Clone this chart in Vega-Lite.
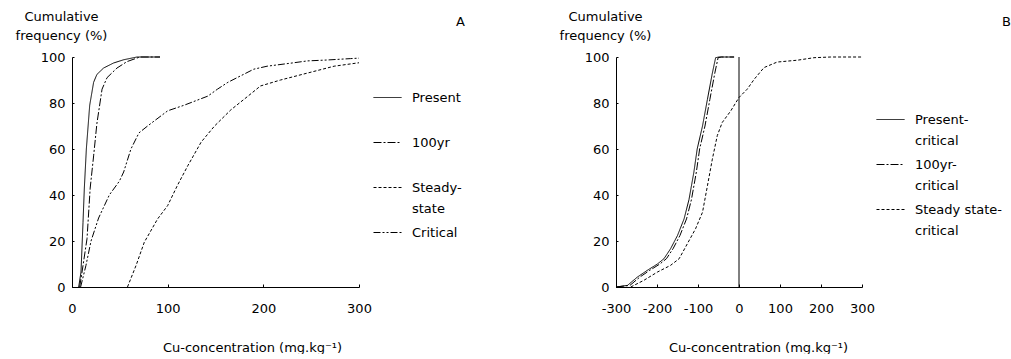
{
  "$schema": "https://vega.github.io/schema/vega-lite/v6.json",
  "padding": {"left": 15, "top": 10, "right": 0, "bottom": 0},
  "background": "white",
  "config": {
    "font": "DejaVu Sans",
    "view": {"stroke": null},
    "axis": {"grid": false, "domainColor": "black", "tickColor": "black", "labelColor": "black", "titleColor": "black", "labelFont": "DejaVu Sans", "titleFont": "DejaVu Sans", "labelFontSize": 13, "titleFontSize": 13, "titleFontWeight": "normal", "domainWidth": 1, "tickWidth": 1, "labelOverlap": false, "labelFlush": false},
    "legend": {"labelFont": "DejaVu Sans", "labelFontSize": 13, "labelColor": "black"},
    "title": {"font": "DejaVu Sans", "fontSize": 13, "fontWeight": "normal", "color": "black"}
  },
  "datasets": {
    "A": [
      {"s": "Present", "x": 7, "y": 0}, {"s": "Present", "x": 9.4, "y": 6.5}, {"s": "Present", "x": 11.5, "y": 28}, {"s": "Present", "x": 12.9, "y": 43}, {"s": "Present", "x": 15, "y": 60}, {"s": "Present", "x": 18.5, "y": 79}, {"s": "Present", "x": 22.6, "y": 89}, {"s": "Present", "x": 26, "y": 92.4}, {"s": "Present", "x": 33, "y": 95.2}, {"s": "Present", "x": 43.5, "y": 97.4}, {"s": "Present", "x": 54, "y": 98.8}, {"s": "Present", "x": 68, "y": 100}, {"s": "Present", "x": 92, "y": 100},
      {"s": "100yr", "x": 8, "y": 0}, {"s": "100yr", "x": 10.5, "y": 6.5}, {"s": "100yr", "x": 15.7, "y": 21}, {"s": "100yr", "x": 19, "y": 43}, {"s": "100yr", "x": 22.6, "y": 57}, {"s": "100yr", "x": 26, "y": 71}, {"s": "100yr", "x": 31.4, "y": 86}, {"s": "100yr", "x": 36.6, "y": 91}, {"s": "100yr", "x": 47, "y": 95.2}, {"s": "100yr", "x": 57.5, "y": 98}, {"s": "100yr", "x": 71, "y": 100}, {"s": "100yr", "x": 92, "y": 100},
      {"s": "Steady-state", "x": 58, "y": 0}, {"s": "Steady-state", "x": 67, "y": 9.4}, {"s": "Steady-state", "x": 75.6, "y": 19.5}, {"s": "Steady-state", "x": 89.5, "y": 29.6}, {"s": "Steady-state", "x": 100, "y": 35.4}, {"s": "Steady-state", "x": 110, "y": 44}, {"s": "Steady-state", "x": 121, "y": 52.7}, {"s": "Steady-state", "x": 135, "y": 63}, {"s": "Steady-state", "x": 149, "y": 70}, {"s": "Steady-state", "x": 166, "y": 77}, {"s": "Steady-state", "x": 184, "y": 83}, {"s": "Steady-state", "x": 197, "y": 87.4}, {"s": "Steady-state", "x": 218, "y": 90}, {"s": "Steady-state", "x": 246, "y": 93}, {"s": "Steady-state", "x": 274, "y": 96}, {"s": "Steady-state", "x": 300, "y": 97.5},
      {"s": "Critical", "x": 9, "y": 0}, {"s": "Critical", "x": 14.6, "y": 9.4}, {"s": "Critical", "x": 19.9, "y": 20}, {"s": "Critical", "x": 27.8, "y": 30}, {"s": "Critical", "x": 39, "y": 40}, {"s": "Critical", "x": 49.5, "y": 46}, {"s": "Critical", "x": 54, "y": 50}, {"s": "Critical", "x": 61.6, "y": 60}, {"s": "Critical", "x": 70, "y": 67}, {"s": "Critical", "x": 79, "y": 70}, {"s": "Critical", "x": 93, "y": 74.4}, {"s": "Critical", "x": 100, "y": 76.6}, {"s": "Critical", "x": 117, "y": 79}, {"s": "Critical", "x": 142, "y": 83}, {"s": "Critical", "x": 152, "y": 86}, {"s": "Critical", "x": 163, "y": 89}, {"s": "Critical", "x": 190, "y": 94.7}, {"s": "Critical", "x": 204, "y": 96}, {"s": "Critical", "x": 232, "y": 97.5}, {"s": "Critical", "x": 246, "y": 98.3}, {"s": "Critical", "x": 267, "y": 98.7}, {"s": "Critical", "x": 291, "y": 99.3}, {"s": "Critical", "x": 300, "y": 99.5}
    ],
    "B": [
      {"t": "Present-critical", "x": -300, "y": 0}, {"t": "Present-critical", "x": -272, "y": 0.7}, {"t": "Present-critical", "x": -248, "y": 4.3}, {"t": "Present-critical", "x": -224, "y": 7.2}, {"t": "Present-critical", "x": -199, "y": 10}, {"t": "Present-critical", "x": -183, "y": 12.3}, {"t": "Present-critical", "x": -167, "y": 16.6}, {"t": "Present-critical", "x": -150, "y": 22.4}, {"t": "Present-critical", "x": -134, "y": 29.6}, {"t": "Present-critical", "x": -122, "y": 38}, {"t": "Present-critical", "x": -110, "y": 50}, {"t": "Present-critical", "x": -102, "y": 60}, {"t": "Present-critical", "x": -89, "y": 70}, {"t": "Present-critical", "x": -77, "y": 81.6}, {"t": "Present-critical", "x": -65, "y": 93}, {"t": "Present-critical", "x": -57, "y": 99.7}, {"t": "Present-critical", "x": -49, "y": 100}, {"t": "Present-critical", "x": -12, "y": 100},
      {"t": "100yr-critical", "x": -300, "y": 0}, {"t": "100yr-critical", "x": -266, "y": 0.7}, {"t": "100yr-critical", "x": -242, "y": 4.3}, {"t": "100yr-critical", "x": -218, "y": 7.2}, {"t": "100yr-critical", "x": -193, "y": 10}, {"t": "100yr-critical", "x": -177, "y": 12.3}, {"t": "100yr-critical", "x": -161, "y": 16.6}, {"t": "100yr-critical", "x": -144, "y": 22.4}, {"t": "100yr-critical", "x": -128, "y": 29.6}, {"t": "100yr-critical", "x": -116, "y": 38}, {"t": "100yr-critical", "x": -104, "y": 50}, {"t": "100yr-critical", "x": -96, "y": 60}, {"t": "100yr-critical", "x": -83, "y": 70}, {"t": "100yr-critical", "x": -71, "y": 81.6}, {"t": "100yr-critical", "x": -59, "y": 93}, {"t": "100yr-critical", "x": -51, "y": 99.7}, {"t": "100yr-critical", "x": -43, "y": 100}, {"t": "100yr-critical", "x": -12, "y": 100},
      {"t": "Steady state-critical", "x": -264, "y": 0}, {"t": "Steady state-critical", "x": -232, "y": 2.9}, {"t": "Steady state-critical", "x": -199, "y": 6.5}, {"t": "Steady state-critical", "x": -167, "y": 9.4}, {"t": "Steady state-critical", "x": -146, "y": 12.3}, {"t": "Steady state-critical", "x": -126, "y": 18.8}, {"t": "Steady state-critical", "x": -106, "y": 25.3}, {"t": "Steady state-critical", "x": -89, "y": 32.5}, {"t": "Steady state-critical", "x": -77, "y": 44}, {"t": "Steady state-critical", "x": -65, "y": 55.6}, {"t": "Steady state-critical", "x": -53, "y": 65.8}, {"t": "Steady state-critical", "x": -41, "y": 71.5}, {"t": "Steady state-critical", "x": -20, "y": 76.6}, {"t": "Steady state-critical", "x": 0, "y": 82.4}, {"t": "Steady state-critical", "x": 20, "y": 86}, {"t": "Steady state-critical", "x": 37, "y": 90.3}, {"t": "Steady state-critical", "x": 61, "y": 95.4}, {"t": "Steady state-critical", "x": 93, "y": 97.8}, {"t": "Steady state-critical", "x": 142, "y": 98.6}, {"t": "Steady state-critical", "x": 183, "y": 99.7}, {"t": "Steady state-critical", "x": 224, "y": 100}, {"t": "Steady state-critical", "x": 300, "y": 100}
    ],
    "zero": [{"x": 0}]
  },
  "hconcat": [
    {
      "width": 287, "height": 230,
      "title": {"text": "A", "anchor": "end", "frame": "group", "dx": 106, "dy": 23},
      "data": {"name": "A"},
      "mark": {"type": "line", "color": "black", "strokeWidth": 1},
      "encoding": {
        "x": {"field": "x", "type": "quantitative", "scale": {"domain": [0, 300], "nice": false},
          "axis": {"values": [0, 100, 200, 300], "tickSize": -3, "labelPadding": 18, "labelExpr": "'' + datum.value", "title": "Cu-concentration (mg.kg⁻¹)", "titleX": 180, "titleY": 64, "titleAlign": "center", "titleBaseline": "alphabetic"}},
        "y": {"field": "y", "type": "quantitative", "scale": {"domain": [0, 100], "nice": false},
          "axis": {"values": [0, 20, 40, 60, 80, 100], "tickSize": -2, "labelPadding": 9, "title": ["Cumulative", "frequency (%)"], "titleAngle": 0, "titleX": -11, "titleY": -37, "titleAlign": "center", "titleBaseline": "alphabetic", "titleLineHeight": 19}},
        "strokeDash": {"field": "s", "type": "nominal",
          "scale": {"domain": ["Present", "100yr", "Steady-state", "Critical"], "range": [[1, 0], [8, 2, 2, 2], [3, 2], [7, 2, 2, 2, 2, 2]]},
          "legend": {"title": null, "orient": "none", "legendX": 301, "legendY": 26, "gridAlign": "all", "symbolType": "stroke", "symbolSize": 784, "symbolStrokeWidth": 1, "symbolStrokeColor": "black", "labelOffset": 10, "rowPadding": 2, "labelLimit": 200,
            "labelExpr": "datum.label == 'Steady-state' ? ['Steady-', 'state'] : datum.label",
            "encode": {"labels": {"update": {"lineHeight": {"value": 21}}}}}}
      }
    },
    {
      "width": 246, "height": 230,
      "title": {"text": "B", "anchor": "end", "frame": "group", "dx": 149, "dy": 23},
      "layer": [
        {
          "data": {"name": "zero"},
          "mark": {"type": "rule", "color": "black", "strokeWidth": 1},
          "encoding": {"x": {"field": "x", "type": "quantitative"}}
        },
        {
          "data": {"name": "B"},
          "mark": {"type": "line", "color": "black", "strokeWidth": 1},
          "encoding": {
            "x": {"field": "x", "type": "quantitative"},
            "y": {"field": "y", "type": "quantitative", "scale": {"domain": [0, 100], "nice": false},
              "axis": {"values": [0, 20, 40, 60, 80, 100], "tickSize": -2, "labelPadding": 9, "title": ["Cumulative", "frequency (%)"], "titleAngle": 0, "titleX": -11, "titleY": -37, "titleAlign": "center", "titleBaseline": "alphabetic", "titleLineHeight": 19}},
            "strokeDash": {"field": "t", "type": "nominal",
              "scale": {"domain": ["Present-critical", "100yr-critical", "Steady state-critical"], "range": [[1, 0], [8, 2, 2, 2], [3, 2]]},
              "legend": {"title": null, "orient": "none", "legendX": 260, "legendY": 48, "gridAlign": "all", "symbolType": "stroke", "symbolSize": 784, "symbolStrokeWidth": 1, "symbolStrokeColor": "black", "labelOffset": 10, "rowPadding": 2, "labelLimit": 200,
                "labelExpr": "datum.label == 'Present-critical' ? ['Present-', 'critical'] : datum.label == '100yr-critical' ? ['100yr-', 'critical'] : ['Steady state-', 'critical']",
                "encode": {"labels": {"update": {"lineHeight": {"value": 21}}}}}}
          }
        }
      ],
      "encoding": {
        "x": {"field": "x", "type": "quantitative", "scale": {"domain": [-300, 300], "nice": false},
          "axis": {"values": [-300, -200, -100, 0, 100, 200, 300], "tickSize": -3, "labelPadding": 18, "labelExpr": "'' + datum.value", "title": "Cu-concentration (mg.kg⁻¹)", "titleX": 142, "titleY": 64, "titleAlign": "center", "titleBaseline": "alphabetic"}}
      }
    }
  ],
  "spacing": 257,
  "bounds": "flush",
  "resolve": {"scale": {"strokeDash": "independent", "x": "independent", "y": "independent"}, "legend": {"strokeDash": "independent"}, "axis": {"x": "independent", "y": "independent"}}
}
